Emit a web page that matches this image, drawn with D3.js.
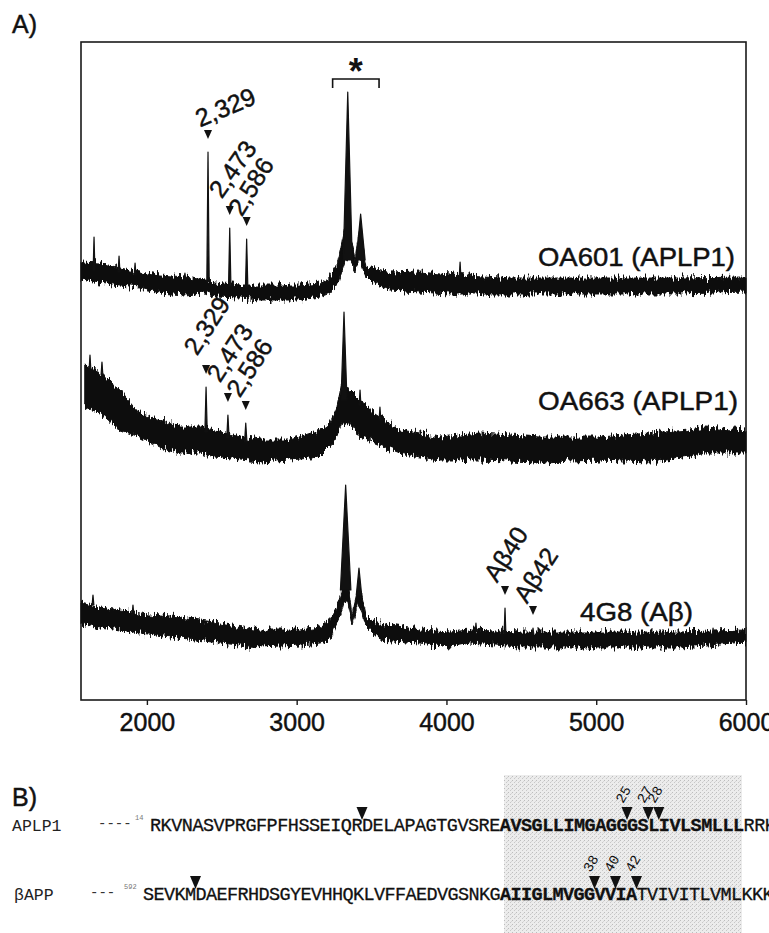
<!DOCTYPE html>
<html>
<head>
<meta charset="utf-8">
<script src="https://cdn.jsdelivr.net/npm/d3@7"></script>
<style>
body { margin: 0; background: #fff; }
svg { display: block; font-family: "Liberation Sans", Arial, sans-serif; }
.heavy { stroke: #111; stroke-width: 0.45px; }
</style>
</head>
<body>
<div id="chart"></div>
<script>
// ---- panel A data ----
var xTicks = [2000, 3000, 4000, 5000, 6000];
var traceNames = ["OA601 (APLP1)", "OA663 (APLP1)", "4G8 (A\u03b2)"];

// noise band of each trace: [m/z, low, high] (stacked, arbitrary units)
var bandOA601 = [
  [1560, 420, 438], [1687, 417, 437], [1820, 414, 432], [1954, 412, 428], [2087, 407, 425],
  [2254, 405, 423], [2388, 407, 420], [2455, 403, 418], [2622, 402, 415], [2755, 400, 415],
  [3022, 400, 415], [3156, 403, 417], [3222, 407, 423], [3276, 417, 437], [3303, 430, 458],
  [3330, 442, 478], [3355, 440, 468], [3389, 430, 440], [3420, 440, 470], [3443, 430, 455],
  [3463, 423, 432], [3503, 417, 433], [3623, 410, 427], [3823, 408, 428], [4024, 406, 425],
  [4358, 406, 422], [5025, 406, 422], [5560, 406, 422], [6000, 408, 423]
];
var bandOA663 = [
  [1585, 293, 335], [1687, 287, 328], [1820, 270, 310], [1954, 263, 287], [2087, 253, 280],
  [2221, 247, 273], [2355, 247, 273], [2455, 243, 270], [2622, 240, 263], [2755, 238, 260],
  [2955, 240, 260], [3156, 243, 270], [3222, 253, 277], [3269, 263, 293], [3303, 278, 318],
  [3336, 275, 312], [3356, 277, 310], [3423, 263, 300], [3523, 257, 287], [3690, 247, 270],
  [3823, 243, 267], [3957, 240, 263], [4224, 240, 267], [4625, 238, 263], [5025, 240, 263],
  [5359, 238, 267], [5626, 243, 270], [5726, 247, 273], [6000, 247, 270]
];
var bandG8 = [
  [1560, 77, 98], [1687, 73, 93], [1954, 67, 87], [2221, 62, 83], [2488, 57, 77],
  [2755, 53, 70], [3022, 55, 70], [3156, 57, 73], [3222, 60, 80], [3269, 77, 93],
  [3303, 90, 110], [3320, 100, 125], [3343, 98, 117], [3369, 75, 85], [3396, 88, 103],
  [3410, 95, 115], [3436, 88, 103], [3463, 73, 83], [3556, 60, 77], [3823, 57, 70],
  [4024, 53, 68], [4157, 57, 70], [4491, 53, 68], [5159, 53, 68], [5560, 53, 68], [6000, 58, 70]
];

// peaks: [m/z, base, top, half width in m/z]
var peaksOA601 = [
  [1647, 430, 463, 6], [1814, 428, 444, 6], [1921, 425, 437, 6], [2254, 420, 427, 6],
  [2408, 418, 548, 8], [2553, 414, 472, 8], [2666, 413, 461, 8],
  [3341, 440, 608, 30], [3427, 440, 486, 30], [4091, 422, 438, 6]
];
var peaksOA663 = [
  [1620, 330, 345, 6], [1700, 325, 338, 6], [2395, 268, 313, 8], [2541, 262, 285, 8],
  [2660, 258, 277, 8], [3316, 300, 388, 20], [3423, 295, 310, 6], [3556, 280, 293, 6]
];
var peaksG8 = [
  [1640, 95, 105, 6], [1907, 85, 95, 6], [3327, 110, 215, 35], [3416, 105, 132, 18],
  [4197, 68, 77, 5], [4391, 66, 92, 6], [4578, 66, 72, 5], [5780, 66, 72, 5]
];

// annotated peaks: [label, m/z]
var labelsOA601 = [["2,329", 2408], ["2,473", 2553], ["2,586", 2666]];
var labelsOA663 = [["2,329", 2395], ["2,473", 2541], ["2,586", 2660]];
var labelsG8 = [["A\u03b240", 4391], ["A\u03b242", 4578]];
var bracketRange = [3240, 3550];

// ---- panel B data ----
var seqNames = ["APLP1", "\u03b2APP"];
var seqAPLP1 = "RKVNASVPRGFPFHSSEIQRDELAPAGTGVSREAVSGLLIMGAGGGSLIVLSMLLLRRK";
var seqAPP = "SEVKMDAEFRHDSGYEVHHQKLVFFAEDVGSNKGAIIGLMVGGVVIATVIVITLVMLKKK";
var boldAPLP1 = [33, 55];
var boldAPP = [34, 46];
// cleavage sites (residue boundary index) and their labels
var cutsAPLP1 = [[20, ""], [45, "25"], [47, "27"], [48, "28"]];
var cutsAPP = [[5, ""], [43, "38"], [45, "40"], [47, "42"]];

// ---- setup ----
var svgWidth = 769, svgHeight = 933;
var margin = {top: 42, right: 23, bottom: 233, left: 81};

var svg = d3.select("#chart")
    .append("svg")
    .attr("width", svgWidth)
    .attr("height", svgHeight);

var defs = svg.append("defs");

// rough edges for the noisy spectra (vertical jitter only)
var rough = defs.append("filter").attr("id", "rough")
    .attr("x", "-2%").attr("y", "-40%").attr("width", "104%").attr("height", "180%");
rough.append("feTurbulence")
    .attr("type", "fractalNoise").attr("baseFrequency", "0.55 0.09")
    .attr("numOctaves", 2).attr("seed", 3).attr("result", "noise");
rough.append("feColorMatrix")
    .attr("in", "noise").attr("type", "matrix")
    .attr("values", "0 0 0 0 0.5  0 1 0 0 0  0 0 0 0 0  0 0 0 0 1")
    .attr("result", "shift");
rough.append("feDisplacementMap")
    .attr("in", "SourceGraphic").attr("in2", "shift")
    .attr("scale", 14).attr("xChannelSelector", "R").attr("yChannelSelector", "G");

var xScale = d3.scaleLinear()
    .domain([1560, 6000])
    .range([margin.left, svgWidth - margin.right]);

var yScale = d3.scaleLinear()
    .domain([0, 658])
    .range([svgHeight - margin.bottom, margin.top]);

// panel label
svg.append("text").attr("x", 12).attr("y", 33).attr("class", "heavy")
    .attr("font-size", 25).attr("fill", "#111").text("A)");

// frame
svg.append("rect")
    .attr("x", margin.left).attr("y", margin.top)
    .attr("width", xScale.range()[1] - margin.left)
    .attr("height", yScale.range()[0] - margin.top)
    .attr("fill", "none").attr("stroke", "#1a1a1a").attr("stroke-width", 1.6);

// x axis
var xAxis = d3.axisBottom(xScale).tickValues(xTicks).tickSize(5).tickFormat(d3.format("d"));
var axisG = svg.append("g")
    .attr("transform", `translate(0, ${yScale.range()[0]})`)
    .call(xAxis);
axisG.select(".domain").remove();
axisG.selectAll("line").attr("stroke", "#1a1a1a").attr("stroke-width", 1.4);
axisG.selectAll("text")
    .attr("y", 13)
    .attr("class", "heavy")
    .attr("font-size", 25)
    .attr("font-family", "Liberation Sans, Arial, sans-serif")
    .attr("fill", "#111");

// traces
var area = d3.area()
    .x(d => xScale(d[0]))
    .y0(d => yScale(d[1]))
    .y1(d => yScale(d[2]));

var traces = [
  {band: bandOA601, peaks: peaksOA601, labels: labelsOA601},
  {band: bandOA663, peaks: peaksOA663, labels: labelsOA663},
  {band: bandG8, peaks: peaksG8, labels: labelsG8}
];

var plotGroup = svg.append("g");

traces.forEach(t => {
    plotGroup.append("path")
        .attr("d", area(t.band))
        .attr("fill", "#111")
        .attr("stroke", "#111")
        .attr("stroke-width", 1)
        .attr("filter", "url(#rough)");

    plotGroup.selectAll(null)
        .data(t.peaks)
        .enter()
        .append("path")
        .attr("d", d => `M${xScale(d[0] - d[3])},${yScale(d[1])}L${xScale(d[0])},${yScale(d[2])}L${xScale(d[0] + d[3])},${yScale(d[1])}Z`)
        .attr("fill", "#111")
        .attr("stroke", "#111")
        .attr("stroke-width", 1.2)
        .attr("stroke-linejoin", "round");
});

// label angles / offsets for each annotated peak
var labelStyles = [
  [{a: -23, dx: -8, dy: -7}, {a: -55, dx: -8, dy: -11}, {a: -58, dx: -5, dy: -4}],
  [{a: -57, dx: -9, dy: -13}, {a: -57, dx: -8, dy: -14}, {a: -57, dx: -6, dy: -7}],
  [{a: -57, dx: -8, dy: -7}, {a: -57, dx: -6, dy: -6}]
];

traces.forEach((t, ti) => {
    t.labels.forEach((lab, li) => {
        var peak = t.peaks.find(p => p[0] === lab[1]);
        var px = xScale(lab[1]);
        var tip = yScale(peak[2]) - 13;
        var cy = tip - 4.5;
        plotGroup.append("path")
            .attr("d", `M${px - 4},${tip - 9}L${px + 4},${tip - 9}L${px},${tip}Z`)
            .attr("fill", "#111");
        var st = labelStyles[ti][li];
        plotGroup.append("text")
            .attr("transform", `translate(${px + st.dx}, ${cy + st.dy}) rotate(${st.a})`)
            .attr("class", "heavy")
            .attr("font-size", 25)
            .attr("fill", "#111")
            .text(lab[0]);
    });
});

// trace names
var namePos = [
  {x: 735, y: 266, w: 197},
  {x: 738, y: 410, w: 200},
  {x: 693, y: 621, w: 113}
];
svg.selectAll(".trace-name")
    .data(traceNames)
    .enter()
    .append("text")
    .attr("class", "trace-name heavy")
    .attr("x", (d, i) => namePos[i].x - namePos[i].w)
    .attr("y", (d, i) => namePos[i].y)
    .attr("textLength", (d, i) => namePos[i].w)
    .attr("lengthAdjust", "spacingAndGlyphs")
    .attr("font-size", 25)
    .attr("fill", "#111")
    .text(d => d);

// bracket with asterisk
var bx0 = xScale(bracketRange[0]), bx1 = xScale(bracketRange[1]);
svg.append("path")
    .attr("d", `M${bx0},88V79H${bx1}V88`)
    .attr("fill", "none").attr("stroke", "#111").attr("stroke-width", 1.6);
svg.append("text")
    .attr("x", (bx0 + bx1) / 2).attr("y", 84)
    .attr("text-anchor", "middle")
    .attr("font-size", 36).attr("font-weight", "bold")
    .attr("fill", "#111")
    .text("*");

// ---- panel B ----
svg.append("text").attr("x", 12).attr("y", 806).attr("class", "heavy")
    .attr("font-size", 25).attr("fill", "#111").text("B)");

var pat = defs.append("pattern")
    .attr("id", "stipple").attr("width", 4).attr("height", 4)
    .attr("patternUnits", "userSpaceOnUse");
pat.append("rect").attr("width", 4).attr("height", 4).attr("fill", "#ececec");
pat.append("rect").attr("x", 0).attr("y", 0).attr("width", 1).attr("height", 1).attr("fill", "#bdbdbd");
pat.append("rect").attr("x", 2).attr("y", 2).attr("width", 1).attr("height", 1).attr("fill", "#c8c8c8");
pat.append("rect").attr("x", 3).attr("y", 1).attr("width", 1).attr("height", 1).attr("fill", "#d6d6d6");

svg.append("rect")
    .attr("x", 504).attr("y", 775).attr("width", 238).attr("height", 158)
    .attr("fill", "url(#stipple)");

var seqRows = [
  {name: seqNames[0], seq: seqAPLP1, bold: boldAPLP1, cuts: cutsAPLP1,
   x0: 150, pitch: 10.6, y: 831, nameX: 12, dashX: 98, dashes: "----", sup: "14", supX: 135},
  {name: seqNames[1], seq: seqAPP, bold: boldAPP, cuts: cutsAPP,
   x0: 143, pitch: 10.5, y: 900, nameX: 14, dashX: 90, dashes: "---", sup: "592", supX: 124}
];

var mono = "Liberation Mono, Courier New, monospace";

seqRows.forEach(row => {
    var cx = d3.scaleLinear().domain([0, row.seq.length]).range([row.x0, row.x0 + row.seq.length * row.pitch]);

    svg.append("text")
        .attr("x", row.nameX).attr("y", row.y)
        .attr("font-family", mono).attr("font-size", 16.5)
        .attr("fill", "#222")
        .text(row.name);

    svg.append("text")
        .attr("x", row.dashX).attr("y", row.y - 3)
        .attr("font-family", mono).attr("font-size", 14)
        .attr("fill", "#333")
        .text(row.dashes);

    svg.append("text")
        .attr("x", row.supX).attr("y", row.y - 11)
        .attr("font-family", mono).attr("font-size", 7)
        .attr("fill", "#777")
        .text(row.sup);

    svg.selectAll(null)
        .data(row.seq.split(""))
        .enter()
        .append("text")
        .attr("x", (d, i) => cx(i))
        .attr("y", row.y)
        .attr("font-family", mono)
        .attr("font-size", 18.5)
        .attr("font-weight", (d, i) => (i >= row.bold[0] && i <= row.bold[1]) ? "bold" : "normal")
        .attr("stroke", "#111")
        .attr("stroke-width", 0.3)
        .attr("fill", "#111")
        .text(d => d);

    var tipY = row.y - 11;
    row.cuts.forEach(c => {
        var ax = cx(c[0]);
        svg.append("path")
            .attr("d", `M${ax - 5.5},${tipY - 13}L${ax + 5.5},${tipY - 13}L${ax},${tipY}Z`)
            .attr("fill", "#111");
        if (c[1]) {
            svg.append("text")
                .attr("transform", `translate(${ax - 4}, ${tipY - 16}) rotate(-60)`)
                .attr("font-family", mono)
                .attr("font-size", 14)
                .attr("fill", "#111")
                .text(c[1]);
        }
    });
});
</script>
</body>
</html>
